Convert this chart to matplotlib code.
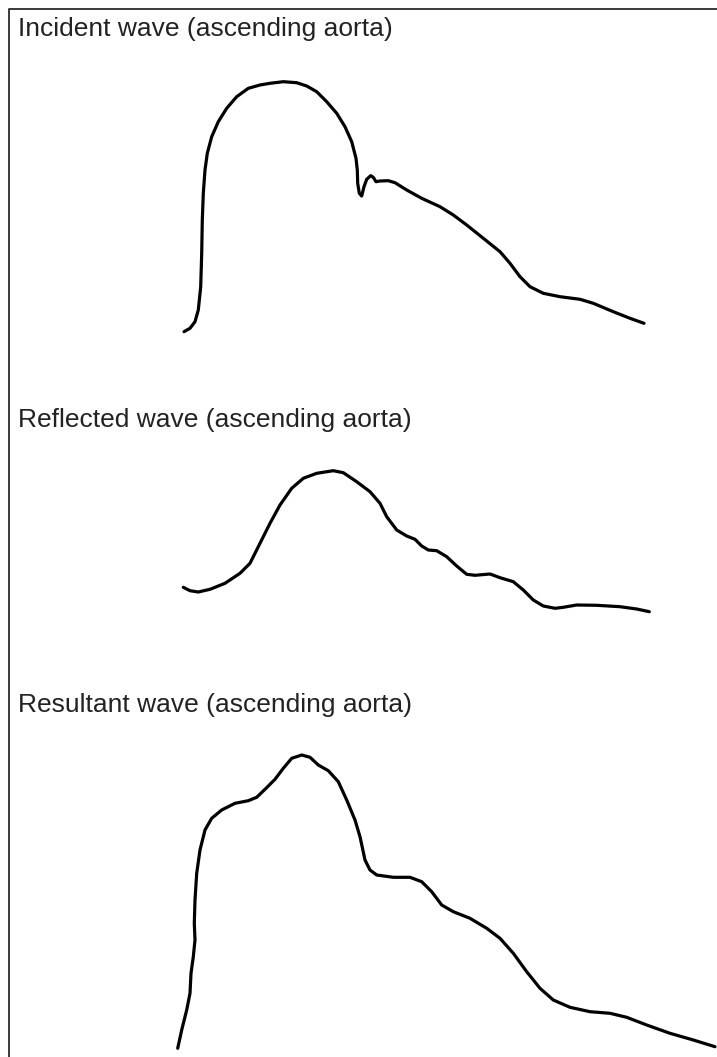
import matplotlib
matplotlib.use("Agg")
import matplotlib.pyplot as plt
from matplotlib.lines import Line2D

# --- waves (x: time, y: trace height on the page) ---
incident_x = [184, 190, 195, 198.3, 200.7, 201.7, 202.3, 203.3, 205, 207.3, 211.7, 218.3, 226.7,
              236.7, 248.3, 260, 270, 283.3, 296.7, 306.7, 316.7, 326.7, 336.7, 345, 351.7,
              356, 357.3, 357.7, 359.3, 361.7, 364, 366.7, 370.7, 373.3, 376, 380, 388.3,
              395, 406.7, 421.7, 440, 453.3, 466.7, 483.3, 500, 510, 520, 530, 543.3, 560,
              580, 593.3, 613.3, 630, 644]
incident_y = [331.7, 328.3, 321.7, 310, 286.7, 253.3, 220, 193.3, 170, 153.3, 136.7, 121.7, 108.3,
              96.7, 88.3, 85, 83.3, 81.7, 82.7, 86, 91.7, 101.7, 113.3, 126.7, 141.7,
              158.3, 170, 183.3, 193.3, 196, 186.7, 179.3, 175.7, 177.3, 181.7, 181, 180.7,
              182.7, 190, 198.3, 206.7, 215, 225, 238.3, 251.7, 263.3, 276.7, 286.7, 293.3, 296.7,
              299.3, 303.3, 311.7, 318.3, 323.3]

reflected_x = [183.3, 190, 198.3, 210, 225, 240, 250, 260, 270, 280, 291.7, 303.3, 316.7, 333.3,
               343.3, 356.7, 370, 380, 386.7, 396.7, 406.7, 415, 421.7, 428.3, 436.7, 446.7,
               456.7, 466.7, 475, 490, 500, 513.3, 523.3, 533.3, 543.3, 555, 563.3, 576.7,
               596.7, 620, 636.7, 649.3]
reflected_y = [587.3, 590.7, 592, 589.3, 583.3, 573.3, 563.3, 543.3, 523.3, 505, 488.3, 478.3,
               473.3, 470.7, 472.7, 481.7, 491.7, 503.3, 516.7, 530, 536, 539.3, 546, 550,
               550.7, 556.7, 566, 574.3, 575.3, 574, 577.7, 581.7, 590, 600, 606, 608.3,
               607.3, 605, 605.3, 606.7, 609, 611.7]

resultant_x = [177.7, 181.7, 186.7, 190, 191, 193.3, 195, 194.3, 195, 196.7, 200, 205, 211.7,
               221.7, 235, 248.3, 256.7, 265, 275, 283.3, 291.7, 301.7, 310, 318.3, 328.3,
               338.3, 346.7, 355, 360, 365, 370, 376.7, 393.3, 410, 421.7, 431.7, 441.7,
               453.3, 470, 486.7, 500, 513.3, 526.7, 540, 553.3, 570, 590, 610, 626.7, 646.7,
               670, 693.3, 715]
resultant_y = [1048.3, 1030, 1010, 993.3, 973.3, 956.7, 940, 923.3, 900, 873.3, 850, 830, 818.3,
               810, 803.3, 800.7, 797.3, 789.3, 779.3, 768.3, 758.3, 755, 757.3, 765, 770.7,
               781.7, 800, 820, 836.7, 860, 870, 875, 877.3, 877.3, 881.7, 891.7, 905,
               911.7, 918.3, 928.3, 938.3, 953.3, 971.7, 988.3, 1000, 1007.3, 1011.7, 1013.3,
               1017.3, 1025, 1033.3, 1040, 1046.7]

labels = ["Incident wave (ascending aorta)",
          "Reflected wave (ascending aorta)",
          "Resultant wave (ascending aorta)"]
label_y = [29, 420, 705]

W, H = 717, 1057
fig = plt.figure(figsize=(W / 100, H / 100), dpi=100)
ax = fig.add_axes([0, 0, 1, 1])
ax.set_xlim(0, W)
ax.set_ylim(H, 0)
ax.axis("off")

# frame (only top and left edges show)
ax.add_line(Line2D([9, 9, W], [H, 8.5, 8.5], color="#2a2a2a", lw=1.3))

for xs, ys in [(incident_x, incident_y), (reflected_x, reflected_y), (resultant_x, resultant_y)]:
    ax.plot(xs, ys, color="black", lw=2.3, solid_joinstyle="round", solid_capstyle="round")

for txt, y in zip(labels, label_y):
    ax.text(18, y, txt, fontsize=19, family="Liberation Sans", color="#222222",
            ha="left", va="center")

fig.savefig("out.png", dpi=100, facecolor="white")
